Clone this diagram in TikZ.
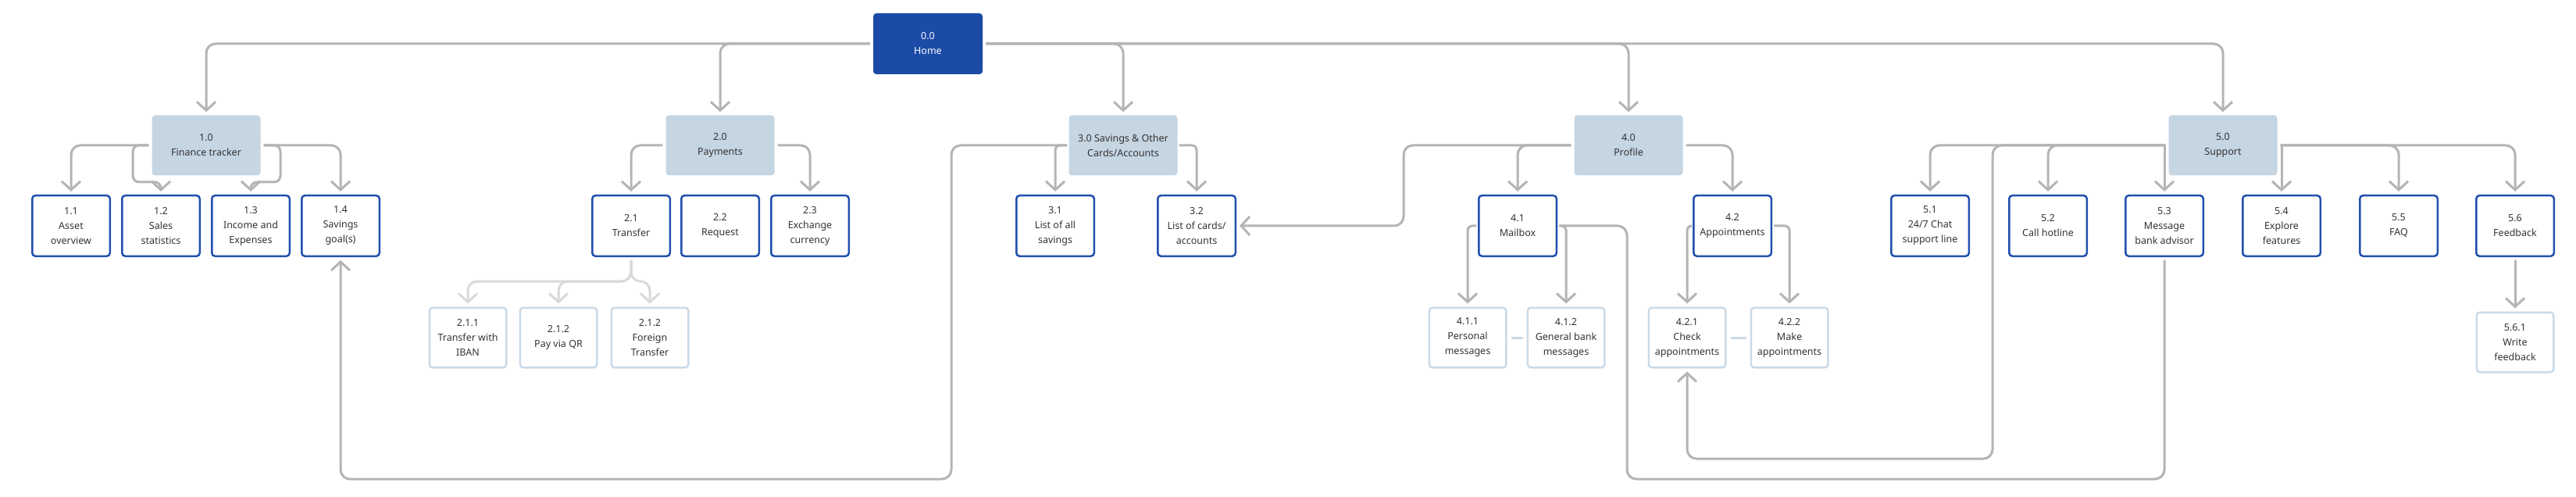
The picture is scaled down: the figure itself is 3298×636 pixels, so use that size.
\documentclass[tikz,border=0pt]{standalone}
\usepackage{fontspec}
\setmainfont{Noto Sans}
\usetikzlibrary{arrows.meta}
\definecolor{homeBlue}{RGB}{28,75,167}
\definecolor{topFill}{RGB}{197,213,226}
\definecolor{pageBlue}{RGB}{33,80,174}
\definecolor{subBlue}{RGB}{201,218,232}
\definecolor{lineGray}{RGB}{180,180,180}
\definecolor{subGray}{RGB}{217,217,217}
\definecolor{textGray}{RGB}{51,51,51}

\begin{document}
\begin{tikzpicture}
[x=1pt,y=-1pt,
  boxDecorate/.style={shape=rectangle,rounded corners=4pt,inner sep=0pt,align=center,%
    font=\fontsize{12.5pt}{19pt}\selectfont,text=textGray},%
  homeDecorate/.style={boxDecorate,fill=homeBlue,text=white,minimum width=140pt,minimum height=78pt},%
  topDecorate/.style={boxDecorate,fill=topFill,minimum width=139pt,minimum height=77pt},%
  pageDecorate/.style={boxDecorate,draw=pageBlue,line width=2.5pt,fill=white,%
    minimum width=99.5pt,minimum height=77.5pt},%
  subDecorate/.style={boxDecorate,draw=subBlue,line width=2.5pt,fill=white,%
    minimum width=98.5pt,minimum height=76.5pt},%
  lineDecorate/.style={draw=lineGray,line width=3pt,rounded corners=12pt,%
    shorten <=4pt,shorten >=4pt},%
  arrowDecorate/.style={lineDecorate,-{Straight Barb[length=11pt,width=24pt]}},%
  smallArrowDecorate/.style={arrowDecorate,rounded corners=6pt,shorten <=2pt},%
  subArrowDecorate/.style={arrowDecorate,draw=subGray},%
  linkDecorate/.style={draw=subBlue,line width=3pt,shorten <=5pt,shorten >=5pt}]
\useasboundingbox (0,0) rectangle (3298,636);
%% home and sections
\node (home) at (1188,56) [homeDecorate] {0.0\\Home};
\foreach \nodename/\x/\txt in {
  fin/264/{1.0\\Finance tracker}, pay/922/{2.0\\Payments},
  sav/1438/{3.0 Savings \& Other\\Cards/Accounts},
  prof/2085/{4.0\\Profile}, supp/2846/{5.0\\Support}}
{
  \node (\nodename) at (\x,186) [topDecorate] {\txt};
}
%% pages
\foreach \nodename/\x/\txt in {
  n11/91/{1.1\\Asset\\overview}, n12/206/{1.2\\Sales\\statistics},
  n13/321/{1.3\\Income and\\Expenses}, n14/436/{1.4\\Savings\\goal(s)},
  n21/808/{2.1\\Transfer}, n22/922/{2.2\\Request}, n23/1037/{2.3\\Exchange\\currency},
  n31/1351/{3.1\\List of all\\savings}, n32/1532/{3.2\\List of cards/\\accounts},
  n41/1943/{4.1\\Mailbox}, n42/2218/{4.2\\Appointments},
  n51/2471/{5.1\\24/7 Chat\\support line}, n52/2622/{5.2\\Call hotline},
  n53/2771/{5.3\\Message\\bank advisor}, n54/2921/{5.4\\Explore\\features},
  n55/3071/{5.5\\FAQ}, n56/3220/{5.6\\Feedback}}
{
  \node (\nodename) at (\x,289) [pageDecorate] {\txt};
}
%% sub pages
\foreach \nodename/\x/\y/\txt in {
  n211/599/432/{2.1.1\\Transfer with\\IBAN}, n212/715/432/{2.1.2\\Pay via QR},
  n213/832/432/{2.1.2\\Foreign\\Transfer},
  n411/1879/432/{4.1.1\\Personal\\messages}, n412/2005/432/{4.1.2\\General bank\\messages},
  n421/2160/432/{4.2.1\\Check\\appointments}, n422/2291/432/{4.2.2\\Make\\appointments},
  n561/3220/438/{5.6.1\\Write\\feedback}}
{
  \node (\nodename) at (\x,\y) [subDecorate] {\txt};
}
%% tree connectors
\foreach \startnode/\endnode in {
  home.west/fin.north, home.west/pay.north, home.east/sav.north,
  home.east/prof.north, home.east/supp.north,
  fin.west/n11.north, fin.east/n14.north, pay.west/n21.north, pay.east/n23.north,
  prof.west/n41.north, prof.east/n42.north,
  supp.west/n51.north, supp.west/n52.north, supp.east/n55.north, supp.east/n56.north}
{
  \draw[arrowDecorate] (\startnode) -| (\endnode);
}
\foreach \startnode/\endnode in {
  sav.west/n31.north, sav.east/n32.north, n41.west/n411.north,
  n41.east/n412.north, n42.west/n421.north, n42.east/n422.north}
{
  \draw[smallArrowDecorate] (\startnode) -| (\endnode);
}
\draw[arrowDecorate,rounded corners=8pt] (fin.west)
  -| ([xshift=-36pt,yshift=16pt]n12.north) -| (n12.north);
\draw[arrowDecorate,rounded corners=8pt] (fin.east)
  -| ([xshift=38pt,yshift=16pt]n13.north) -| (n13.north);
\draw[arrowDecorate,shorten <=0pt] (n53.north |- supp.west) -- (n53.north);
\draw[arrowDecorate,shorten <=0pt] (n54.north |- supp.east) -- (n54.north);
\draw[arrowDecorate] (n56.south) -- (n561.north);
%% transfer options
\foreach \endnode in {n211,n212,n213}
{
  \draw[subArrowDecorate] (n21.south) -- ++(0,31) -| (\endnode.north);
}
%% cross links
\coordinate (railA) at (1218,613);
\coordinate (railB) at (1797,240);
\coordinate (railC) at (2083,613);
\coordinate (railD) at (2551,587);
\draw[arrowDecorate] (sav.west) -| (railA) -| (n14.south);
\draw[arrowDecorate] (prof.west) -| (railB) |- (n32.east);
\draw[lineDecorate] (n41.east) -| (railC) -| (n53.south);
\draw[arrowDecorate] (supp.west) -| (railD) -| (n421.south);
\draw[linkDecorate] (n411.east) -- (n412.west);
\draw[linkDecorate] (n421.east) -- (n422.west);
\end{tikzpicture}
\end{document}
